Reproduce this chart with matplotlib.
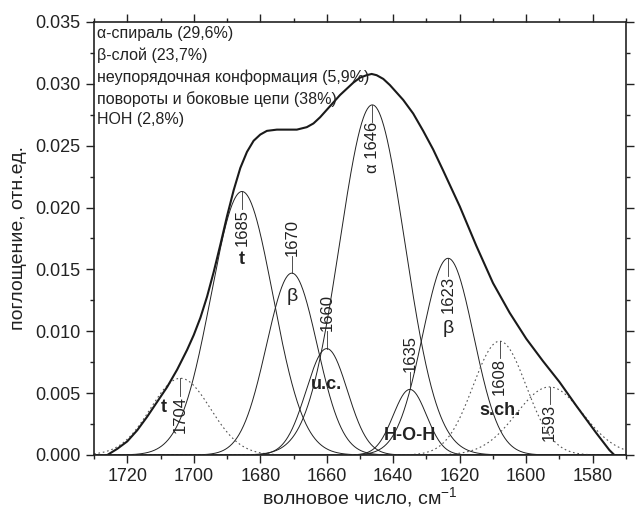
import numpy as np
import matplotlib.pyplot as plt
from matplotlib.ticker import MultipleLocator, FormatStrFormatter

plt.rcParams['font.family'] = ['Liberation Sans', 'DejaVu Sans']

env_x = [1726, 1723, 1720, 1717, 1714, 1711, 1708, 1705, 1702, 1700, 1698, 1696, 1694, 1692,
         1690, 1688, 1686, 1684, 1682, 1680, 1678, 1675, 1672, 1669, 1666, 1664, 1662,
         1660, 1658, 1656, 1654, 1652, 1650, 1648, 1646.5, 1645, 1643, 1641, 1639, 1637,
         1634, 1631, 1628, 1625, 1620, 1615, 1610, 1605, 1600, 1595, 1590, 1585, 1582,
         1579, 1577, 1575, 1573.5]
env_y = [0.0, 0.0005, 0.0011, 0.0020, 0.0031, 0.0043, 0.0055, 0.0069, 0.0085, 0.0097, 0.0111,
         0.0128, 0.0148, 0.0170, 0.0193, 0.0214, 0.0232, 0.0245, 0.0254, 0.0259, 0.0262,
         0.0263, 0.0263, 0.0263, 0.0265, 0.0268, 0.0273, 0.0279, 0.0285, 0.0291, 0.0296,
         0.0301, 0.0305, 0.0307, 0.0308, 0.0307, 0.0304, 0.0299, 0.0293, 0.0287, 0.0276,
         0.0262, 0.0247, 0.0230, 0.0201, 0.0169, 0.0139, 0.0115, 0.0094, 0.0076, 0.0059,
         0.0040, 0.0029, 0.0018, 0.0011, 0.0004, 0.0]

# gaussian components: centre, height, width (sigma)
peak_pos = [1704, 1685.5, 1670.5, 1660, 1646.3, 1635, 1623.5, 1608, 1593]
peak_height = [0.0062, 0.0213, 0.0147, 0.0086, 0.0283, 0.0053, 0.0159, 0.0092, 0.0055]
peak_sigma = [9.0, 9.3, 7.6, 6.2, 9.8, 5.0, 7.7, 8.0, 10.0]
peak_dotted = [True, False, False, False, False, False, False, True, True]
peak_text = ['1704', '1685', '1670', '1660', 'α 1646', '1635', '1623', '1608', '1593']
peak_above = [False, False, True, True, False, True, False, False, False]

# band assignment labels
band_text = ['t', 't', 'β', 'u.c.', 'H-O-H', 'β', 's.ch.']
band_x = [1709, 1685.5, 1670.5, 1660, 1635, 1623.5, 1608]
band_y = [0.0038, 0.0158, 0.0128, 0.0057, 0.0016, 0.0102, 0.0036]
band_bold = [True, True, False, True, True, False, True]

legend_lines = ['α-спираль (29,6%)',
                'β-слой (23,7%)',
                'неупорядочная конформация (5,9%)',
                'повороты и боковые цепи (38%)',
                'НОН (2,8%)']

fig = plt.figure(figsize=(6.37, 5.14), dpi=100)
ax = fig.add_axes([0.1476, 0.1148, 0.8351, 0.8424])

x = np.linspace(1730, 1570, 1200)
for c, h, s, dotted in zip(peak_pos, peak_height, peak_sigma, peak_dotted):
    y = h * np.exp(-(x - c) ** 2 / (2 * s ** 2))
    if dotted:
        ax.plot(x, y, color='#555555', lw=0.8, linestyle=(0, (1.5, 2.5)))
    else:
        ax.plot(x, y, color='#222222', lw=0.7)

ax.plot(env_x, env_y, color='#1a1a1a', lw=1.5, solid_joinstyle='round')

# peak position labels with short leader lines
d = 0.0014
for c, h, t, above in zip(peak_pos, peak_height, peak_text, peak_above):
    if above:
        ax.plot([c, c], [h, h + d], color='#333333', lw=0.6)
        ax.text(c, h + d, t, rotation=90, ha='center', va='bottom', fontsize=12, color='#222222')
    else:
        ax.plot([c, c], [h, h - d], color='#333333', lw=0.6)
        ax.text(c, h - d, t, rotation=90, ha='center', va='top', fontsize=12, color='#222222')

for t, bx, by, b in zip(band_text, band_x, band_y, band_bold):
    ax.text(bx, by, t, ha='center', va='center', fontsize=13 if b else 14,
            fontweight='bold' if b else 'normal', color='#222222')

for i, line in enumerate(legend_lines):
    ax.text(0.006, 0.99 - i * 0.0497, line, transform=ax.transAxes, ha='left', va='top',
            fontsize=11.5, color='#222222')

ax.set_xlim(1730, 1570)
ax.set_ylim(0, 0.035)
ax.xaxis.set_major_locator(MultipleLocator(20))
ax.xaxis.set_minor_locator(MultipleLocator(10))
ax.yaxis.set_major_locator(MultipleLocator(0.005))
ax.yaxis.set_minor_locator(MultipleLocator(0.0025))
ax.yaxis.set_major_formatter(FormatStrFormatter('%.3f'))
ax.tick_params(which='both', direction='out', top=True, right=True, width=1.0,
               labelsize=13, colors='#222222')
ax.tick_params(which='major', length=6)
ax.tick_params(which='minor', length=3)
for sp in ax.spines.values():
    sp.set_linewidth(1.2)
    sp.set_color('#222222')

ax.set_xlabel(r'волновое число, см$^{\mathregular{-1}}$', fontsize=14, color='#222222', labelpad=0)
ax.set_ylabel('поглощение, отн.ед.', fontsize=14, color='#222222', labelpad=6)

fig.savefig('out.png', dpi=100)
